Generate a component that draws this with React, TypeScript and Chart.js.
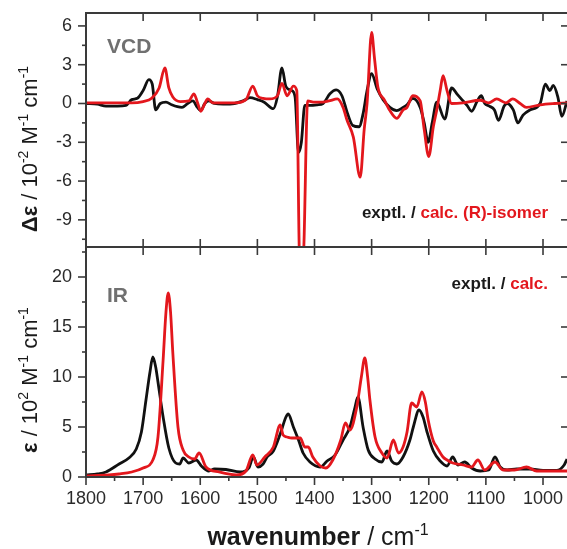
import React, { useEffect, useRef } from "react";
import { Chart, registerables } from "chart.js";

Chart.register(...registerables);

// ---------- data ----------
const xTickValues = [1800, 1700, 1600, 1500, 1400, 1300, 1200, 1100, 1000];
const xMinorValues = [1750, 1650, 1550, 1450, 1350, 1250, 1150, 1050];

const vcdTicks = [-9, -6, -3, 0, 3, 6];
const vcdMinor = [-10.5, -7.5, -4.5, -1.5, 1.5, 4.5];
const irTicks = [0, 5, 10, 15, 20];
const irMinor = [2.5, 7.5, 12.5, 17.5, 22.5];

const vcdExptWn = [1800, 1780, 1765, 1745, 1730, 1720, 1710, 1700, 1690, 1684, 1678, 1670, 1660, 1650, 1640, 1632, 1622, 1613, 1605, 1599, 1592, 1585, 1575, 1560, 1540, 1525, 1513, 1500, 1488, 1472, 1465, 1457, 1450, 1440, 1434, 1428, 1423, 1417, 1408, 1395, 1385, 1373, 1362, 1352, 1342, 1333, 1322, 1315, 1308, 1300, 1290, 1280, 1268, 1256, 1245, 1238, 1228, 1215, 1208, 1201, 1194, 1186, 1172, 1160, 1150, 1142, 1133, 1125, 1115, 1108, 1102, 1094, 1085, 1078, 1068, 1063, 1052, 1044, 1035, 1023, 1005, 996, 988, 982, 974, 967, 958];
const vcdExptVal = [0.0, -0.05, -0.2, -0.2, -0.15, 0.3, 0.4, 1.0, 1.85, 1.5, -0.5, 0.0, 0.1, -0.1, -0.25, -0.3, 0.0, 0.2, -0.3, -0.55, 0.0, 0.2, 0.0, -0.05, 0.0, 0.2, 0.45, 0.3, 0.1, -0.4, 0.5, 2.75, 1.3, 1.0, 0.5, -3.8, -3.0, -0.15, -0.15, -0.1, 0.0, 0.75, 1.05, 0.6, -0.8, -1.7, -1.8, -0.8, 1.0, 2.3, 1.1, 0.3, -0.3, -0.55, -0.3, -0.1, 0.4, -0.3, -1.5, -3.0, -1.5, 0.1, -1.2, 1.2, 0.7, 0.3, -0.15, -0.6, 0.2, 0.6, 0.0, -0.2, -0.5, -1.3, -0.2, 0.0, -0.5, -1.5, -0.9, -0.5, 0.0, 1.5, 1.0, 1.4, 0.5, -1.0, 0.2];

const vcdCalcWn = [1800, 1720, 1700, 1685, 1672, 1662, 1655, 1648, 1635, 1620, 1611, 1605, 1599, 1592, 1587, 1578, 1540, 1520, 1508, 1500, 1490, 1478, 1465, 1457, 1448, 1437, 1431, 1426, 1420, 1412, 1400, 1390, 1375, 1360, 1350, 1343, 1332, 1320, 1313, 1308, 1300, 1295, 1289, 1278, 1268, 1256, 1245, 1238, 1228, 1215, 1208, 1200, 1192, 1186, 1180, 1175, 1168, 1160, 1140, 1110, 1095, 1081, 1065, 1053, 1040, 1029, 1005, 980, 958];
const vcdCalcVal = [0.05, 0.05, 0.15, 0.4, 1.2, 2.75, 1.2, 0.5, 0.15, 0.2, 0.75, 0.1, -0.6, 0.0, 0.35, 0.05, 0.05, 0.3, 1.35, 0.6, 0.4, 0.35, 0.6, 1.55, 0.6, 1.35, 1.0, -12, -12, 0.2, 0.1, 0.1, 0.2, 0.35, -0.3, -1.3, -2.6, -5.7, -2.0, 0.0, 5.5, 3.5, 1.25, 0.3, -0.55, -1.15, -0.5, -0.3, 0.6, 0.2, -2.0, -4.1, -1.8, -0.5, 1.0, 2.15, 1.0, 0.0, 0.05, 0.25, 0.05, 0.35, 0.05, 0.35, 0.0, -0.3, -0.1, 0.0, 0.05];

const irExptWn = [1800, 1780, 1765, 1742, 1725, 1712, 1703, 1695, 1688, 1683, 1678, 1674, 1665, 1655, 1643, 1636, 1630, 1620, 1607, 1598, 1585, 1575, 1555, 1530, 1515, 1507, 1499, 1490, 1483, 1472, 1460, 1450, 1446, 1437, 1428, 1420, 1408, 1390, 1378, 1364, 1350, 1338, 1329, 1324, 1315, 1306, 1294, 1282, 1273, 1265, 1256, 1245, 1233, 1227, 1217, 1210, 1203, 1192, 1180, 1168, 1158, 1149, 1137, 1125, 1110, 1095, 1084, 1075, 1063, 1046, 1023, 1000, 976, 963, 958];
const irExptVal = [0.2, 0.3, 0.5, 1.3, 1.9, 2.8, 4.5, 7.7, 10.5, 12.0, 11.0, 9.5, 6.0, 2.9, 1.4, 1.3, 1.9, 1.4, 1.7, 1.1, 0.6, 0.8, 0.75, 0.5, 0.9, 2.0, 1.0, 1.3, 2.0, 2.6, 4.3, 6.0, 6.3, 5.0, 3.7, 2.4, 1.5, 1.0, 1.6, 2.2, 3.7, 5.0, 7.0, 8.0, 5.0, 2.7, 1.8, 1.5, 2.6, 1.6, 1.3, 2.0, 3.7, 5.0, 6.7, 6.0, 4.5, 2.6, 1.6, 1.1, 2.0, 1.2, 1.5, 0.9, 0.6, 0.7, 2.0, 1.0, 0.7, 0.8, 0.8, 0.65, 0.65, 1.2, 1.8];

const irCalcWn = [1800, 1760, 1742, 1720, 1700, 1683, 1674, 1665, 1660, 1656, 1652, 1648, 1639, 1630, 1620, 1610, 1602, 1590, 1567, 1537, 1520, 1508, 1501, 1487, 1472, 1460, 1455, 1448, 1440, 1425, 1417, 1411, 1403, 1390, 1380, 1368, 1354, 1346, 1338, 1326, 1318, 1312, 1307, 1303, 1294, 1282, 1273, 1262, 1253, 1245, 1238, 1230, 1221, 1212, 1206, 1201, 1192, 1186, 1175, 1168, 1158, 1140, 1125, 1114, 1102, 1084, 1070, 1050, 1029, 1011, 958];
const irCalcVal = [0.1, 0.2, 0.3, 0.5, 0.9, 1.7, 4.0, 11.7, 16.5, 18.4, 16.5, 12.4, 5.0, 2.7, 2.0, 1.8, 2.4, 1.0, 0.5, 0.2, 0.6, 2.2, 1.2, 2.0, 3.0, 5.2, 4.2, 4.0, 3.9, 3.9, 3.0, 3.0, 2.0, 1.1, 0.9, 1.7, 3.7, 5.4, 4.7, 7.0, 10.0, 11.9, 10.0, 7.7, 4.0, 2.4, 1.9, 3.7, 2.4, 3.0, 4.5, 7.4, 7.0, 8.5, 7.5, 5.7, 3.6, 3.0, 2.0, 1.7, 1.4, 1.2, 1.0, 1.7, 0.7, 1.5, 0.7, 0.7, 1.0, 0.6, 0.6];

// ---------- styling ----------
const FONT = '"Liberation Sans", Arial, Helvetica, sans-serif';
const AXIS_COLOR = "#3a3a3a";
const BLACK = "#111111";
const RED = "#e3171d";
const LABEL_GREY = "#707070";
const X_MIN = 958;
const X_MAX = 1800;

type Part = { t: string; bold?: boolean; sup?: boolean; color?: string };

function drawRich(
  ctx: CanvasRenderingContext2D,
  parts: Part[],
  x: number,
  y: number,
  size: number,
  align: "left" | "center" | "right",
  color: string
) {
  const fontFor = (p: Part) =>
    `${p.bold ? "bold " : ""}${p.sup ? Math.round(size * 0.62) : size}px ${FONT}`;
  let total = 0;
  const widths = parts.map((p) => {
    ctx.font = fontFor(p);
    const w = ctx.measureText(p.t).width;
    total += w;
    return w;
  });
  let cx = align === "left" ? x : align === "center" ? x - total / 2 : x - total;
  ctx.textAlign = "left";
  ctx.textBaseline = "alphabetic";
  parts.forEach((p, i) => {
    ctx.font = fontFor(p);
    ctx.fillStyle = p.color || color;
    ctx.fillText(p.t, cx, p.sup ? y - size * 0.4 : y);
    cx += widths[i];
  });
}

type PanelOpts = {
  yMin: number;
  yMax: number;
  yTicks: number[];
  yMinor: number[];
  bottomAxis: boolean;
  label: string;
  labelY: number;
  legend: Part[];
  legendY: number;
  yTitle: Part[];
  yTitleCenter: number;
};

function makeDecor(o: PanelOpts) {
  return {
    id: "decor",
    afterDraw(chart: any) {
      const ctx: CanvasRenderingContext2D = chart.ctx;
      const a = chart.chartArea;
      const xs = chart.scales.x;
      const ys = chart.scales.y;
      const MAJ = 8;
      const MIN = 4;
      ctx.save();
      ctx.strokeStyle = AXIS_COLOR;
      ctx.lineWidth = 1.6;
      const line = (x1: number, y1: number, x2: number, y2: number) => {
        ctx.beginPath();
        ctx.moveTo(x1, y1);
        ctx.lineTo(x2, y2);
        ctx.stroke();
      };
      xTickValues.forEach((v) => {
        const px = xs.getPixelForValue(v);
        line(px, a.top, px, a.top + MAJ);
        if (o.bottomAxis) line(px, a.bottom, px, a.bottom + MAJ);
        else line(px, a.bottom, px, a.bottom - MAJ);
      });
      if (o.bottomAxis) {
        xMinorValues.forEach((v) => {
          const px = xs.getPixelForValue(v);
          line(px, a.bottom, px, a.bottom + MIN);
        });
      }
      o.yTicks.forEach((v) => {
        const py = ys.getPixelForValue(v);
        line(a.left - MAJ, py, a.left, py);
        line(a.right - 6, py, a.right, py);
      });
      o.yMinor.forEach((v) => {
        const py = ys.getPixelForValue(v);
        line(a.left - MIN, py, a.left, py);
      });
      // frame (right side falls outside the picture)
      ctx.lineWidth = 2;
      ctx.beginPath();
      ctx.moveTo(a.right + 2, a.top);
      ctx.lineTo(a.left, a.top);
      ctx.lineTo(a.left, a.bottom);
      ctx.lineTo(a.right + 2, a.bottom);
      ctx.stroke();

      // panel label
      ctx.font = `bold 21px ${FONT}`;
      ctx.fillStyle = LABEL_GREY;
      ctx.textAlign = "left";
      ctx.textBaseline = "alphabetic";
      ctx.fillText(o.label, 107, o.labelY);

      // legend text
      drawRich(ctx, o.legend, 548, o.legendY, 17, "right", BLACK);

      // y title
      ctx.save();
      ctx.translate(37, o.yTitleCenter);
      ctx.rotate(-Math.PI / 2);
      drawRich(ctx, o.yTitle, 0, 0, 22, "center", "#1a1a1a");
      ctx.restore();

      if (o.bottomAxis) {
        drawRich(
          ctx,
          [{ t: "wavenumber", bold: true }, { t: " / cm" }, { t: "-1", sup: true }],
          318,
          a.bottom + 68,
          25,
          "center",
          "#1a1a1a"
        );
      }
      ctx.restore();
    },
  };
}

function toPoints(wn: number[], val: number[]) {
  return wn.map((w, i) => ({ x: w, y: val[i] }));
}

function buildChart(canvas: HTMLCanvasElement, o: PanelOpts, datasets: any[], padTop: number, padBottom: number) {
  return new Chart(canvas, {
    type: "line",
    data: { datasets },
    options: {
      animation: false,
      responsive: false,
      maintainAspectRatio: false,
      layout: { padding: { top: padTop, bottom: padBottom, left: 0, right: 0 } },
      plugins: { legend: { display: false }, tooltip: { enabled: false }, title: { display: false } },
      elements: { point: { radius: 0 }, line: { borderWidth: 2.8, cubicInterpolationMode: "monotone" } },
      scales: {
        x: {
          type: "linear",
          reverse: true,
          min: X_MIN,
          max: X_MAX,
          display: o.bottomAxis,
          grid: { display: false, drawTicks: false },
          border: { display: false },
          afterBuildTicks: (s: any) => {
            s.ticks = xTickValues.map((v) => ({ value: v }));
          },
          afterFit: (s: any) => {
            s.height = o.bottomAxis ? 72 : 0;
            s.paddingLeft = 0;
            s.paddingRight = 0;
          },
          ticks: {
            padding: 11,
            color: "#2a2a2a",
            font: { family: FONT, size: 18 },
            maxRotation: 0,
            autoSkip: false,
            callback: (v: any) => String(v),
          },
        },
        y: {
          type: "linear",
          min: o.yMin,
          max: o.yMax,
          grid: { display: false, drawTicks: false },
          border: { display: false },
          afterBuildTicks: (s: any) => {
            s.ticks = o.yTicks.map((v) => ({ value: v }));
          },
          afterFit: (s: any) => {
            s.width = 86;
            s.paddingTop = 0;
            s.paddingBottom = 0;
          },
          ticks: {
            padding: 14,
            color: "#2a2a2a",
            font: { family: FONT, size: 18 },
            callback: (v: any) => String(v),
          },
        },
      },
    } as any,
    plugins: [makeDecor(o)],
  });
}

const topOpts: PanelOpts = {
  yMin: -11.1,
  yMax: 7,
  yTicks: vcdTicks,
  yMinor: vcdMinor,
  bottomAxis: false,
  label: "VCD",
  labelY: 53,
  legend: [
    { t: "exptl. / ", bold: true, color: "#1a1a1a" },
    { t: "calc. (R)-isomer", bold: true, color: RED },
  ],
  legendY: 218,
  yTitle: [
    { t: "Δε", bold: true },
    { t: " / 10" },
    { t: "-2", sup: true },
    { t: " M" },
    { t: "-1", sup: true },
    { t: " cm" },
    { t: "-1", sup: true },
  ],
  yTitleCenter: 149,
};

const bottomOpts: PanelOpts = {
  yMin: 0,
  yMax: 23,
  yTicks: irTicks,
  yMinor: irMinor,
  bottomAxis: true,
  label: "IR",
  labelY: 55,
  legend: [
    { t: "exptl. / ", bold: true, color: "#1a1a1a" },
    { t: "calc.", bold: true, color: RED },
  ],
  legendY: 42,
  yTitle: [
    { t: "ε", bold: true },
    { t: " / 10" },
    { t: "2", sup: true },
    { t: " M" },
    { t: "-1", sup: true },
    { t: " cm" },
    { t: "-1", sup: true },
  ],
  yTitleCenter: 133,
};

export default function App() {
  const topRef = useRef<HTMLCanvasElement | null>(null);
  const botRef = useRef<HTMLCanvasElement | null>(null);

  useEffect(() => {
    if (!topRef.current || !botRef.current) return;
    const lineDs = (pts: any[], color: string) => ({
      data: pts,
      borderColor: color,
      backgroundColor: color,
      fill: false,
    });
    const c1 = buildChart(
      topRef.current,
      topOpts,
      [lineDs(toPoints(vcdCalcWn, vcdCalcVal), RED), lineDs(toPoints(vcdExptWn, vcdExptVal), BLACK)],
      13,
      1
    );
    const c2 = buildChart(
      botRef.current,
      bottomOpts,
      [lineDs(toPoints(irCalcWn, irCalcVal), RED), lineDs(toPoints(irExptWn, irExptVal), BLACK)],
      0,
      0
    );
    return () => {
      c1.destroy();
      c2.destroy();
    };
  }, []);

  return (
    <div style={{ position: "absolute", left: 0, top: 0, width: 567, height: 549, background: "#fff", overflow: "hidden" }}>
      <canvas ref={botRef} width={567} height={302} style={{ position: "absolute", left: 0, top: 247 }} />
      <canvas ref={topRef} width={567} height={248} style={{ position: "absolute", left: 0, top: 0 }} />
    </div>
  );
}
